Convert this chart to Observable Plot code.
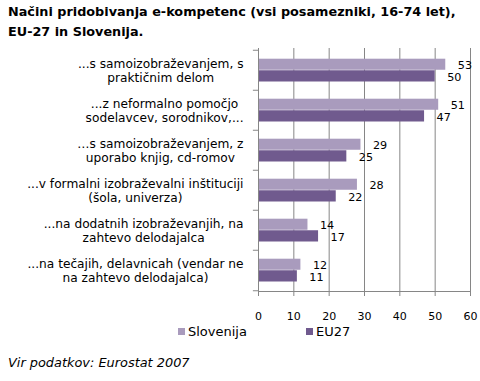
<!DOCTYPE html>
<html><head><meta charset="utf-8">
<script src="https://cdn.jsdelivr.net/npm/d3@7"></script>
<script src="https://cdn.jsdelivr.net/npm/@observablehq/plot@0.6"></script>
<style>
body{margin:0;background:#fff;width:480px;height:381px;position:relative;overflow:hidden;font-family:"DejaVu Sans",Verdana,sans-serif;}
#title{position:absolute;left:8px;top:2px;font-weight:bold;font-size:12.8px;line-height:20px;color:#000;}
#chart{position:absolute;left:0;top:40px;}
#legend{position:absolute;top:324px;left:0;width:480px;font-size:13px;}
.li{position:absolute;display:flex;align-items:center;}
.sw{width:7px;height:7px;margin-right:3px;}
#caption{position:absolute;left:8px;top:355px;font-style:italic;font-size:12.9px;}
</style></head>
<body>
<div id="title">Načini pridobivanja e-kompetenc (vsi posamezniki, 16-74 let),<br>EU-27 in Slovenija.</div>
<div id="chart"></div>
<div id="legend"></div>
<div id="caption">Vir podatkov: Eurostat 2007</div>
<script>
const categories = [
  "...s samoizobraževanjem, s\npraktičnim delom",
  "...z neformalno pomočjo\nsodelavcev, sorodnikov,...",
  "…s samoizobraževanjem, z\nuporabo knjig, cd-romov",
  "...v formalni izobraževalni inštituciji\n(šola, univerza)",
  "...na dodatnih izobraževanjih, na\nzahtevo delodajalca",
  "...na tečajih, delavnicah (vendar ne\nna zahtevo delodajalca)"
];
const seriesNames = ["Slovenija", "EU27"];
const slovenija = [53, 51, 29, 28, 14, 12];
const eu27 = [50, 47, 25, 22, 17, 11];
const xTicks = [0, 10, 20, 30, 40, 50, 60];

const colors = ["#a99bbd", "#705a8e"];
const slo = categories.map((c, i) => ({cat: c, value: slovenija[i]}));
const eu = categories.map((c, i) => ({cat: c, value: eu27[i]}));

const marginTop = 8, marginBottom = 30, height = 281;
const bw = (height - marginTop - marginBottom) / categories.length;
const labelFont = 12.2;

const ctx = document.createElement("canvas").getContext("2d");
ctx.font = labelFont + "px 'DejaVu Sans'";
const labelData = categories.map(c => {
  const w = d3.max(c.split("\n"), l => ctx.measureText(l).width);
  return {cat: c, w};
});

const plot = Plot.plot({
  width: 480,
  height,
  marginLeft: 258,
  marginRight: 10,
  marginTop,
  marginBottom,
  style: {fontFamily: "'DejaVu Sans', Verdana, sans-serif", fontSize: "11px", color: "#000", overflow: "visible"},
  x: {domain: [0, 60], ticks: xTicks, label: null},
  y: {domain: categories, padding: 0, axis: null},
  marks: [
    Plot.gridX(xTicks.slice(1), {stroke: "#868686", strokeOpacity: 1}),
    Plot.barX(slo, {x: "value", y: "cat", fill: colors[0], insetTop: 8.7, insetBottom: bw / 2}),
    Plot.barX(eu, {x: "value", y: "cat", fill: colors[1], insetTop: bw / 2, insetBottom: 8.5}),
    Plot.frame({anchor: "left", stroke: "#868686"}),
    Plot.frame({anchor: "bottom", stroke: "#868686"}),
    Plot.ruleY(categories, {y: d => d, x1: -1.45, x2: 0, dy: -bw / 2, stroke: "#868686"}),
    Plot.ruleY(categories.slice(-1), {y: d => d, x1: -1.45, x2: 0, dy: bw / 2, stroke: "#868686"}),
    Plot.axisX({ticks: xTicks, tickSize: 5, tickPadding: 16, stroke: "#868686", fill: "#000", label: null}),
    Plot.text(slo, {x: "value", y: "cat", text: d => String(d.value), dx: 12, dy: -5.5, textAnchor: "start", fill: "#000", fontSize: 11.2}),
    Plot.text(eu, {x: "value", y: "cat", text: d => String(d.value), dx: 12, dy: 6.5, textAnchor: "start", fill: "#000", fontSize: 11.2}),
    Plot.text(labelData, {x: 0, y: "cat", text: "cat", textAnchor: "middle", lineHeight: 14.3 / labelFont, fontSize: labelFont, fill: "#000",
      render: (index, scales, values, dims, context, next) => {
        const g = next(index, scales, values, dims, context);
        d3.select(g).selectAll("text").each(function(_, k) {
          const d = labelData[index[k]];
          const t = d3.select(this);
          t.attr("transform", `translate(${-(15 + d.w / 2)},0) ` + (t.attr("transform") || ""));
        });
        return g;
      }})
  ]
});
document.getElementById("chart").appendChild(plot);

const legend = document.getElementById("legend");
const legX = [178, 306];
seriesNames.forEach((n, i) => {
  const el = document.createElement("div");
  el.className = "li";
  el.style.left = legX[i] + "px";
  el.innerHTML = `<span class="sw" style="background:${colors[i]}"></span><span>${n}</span>`;
  legend.appendChild(el);
});
</script>
</body></html>
